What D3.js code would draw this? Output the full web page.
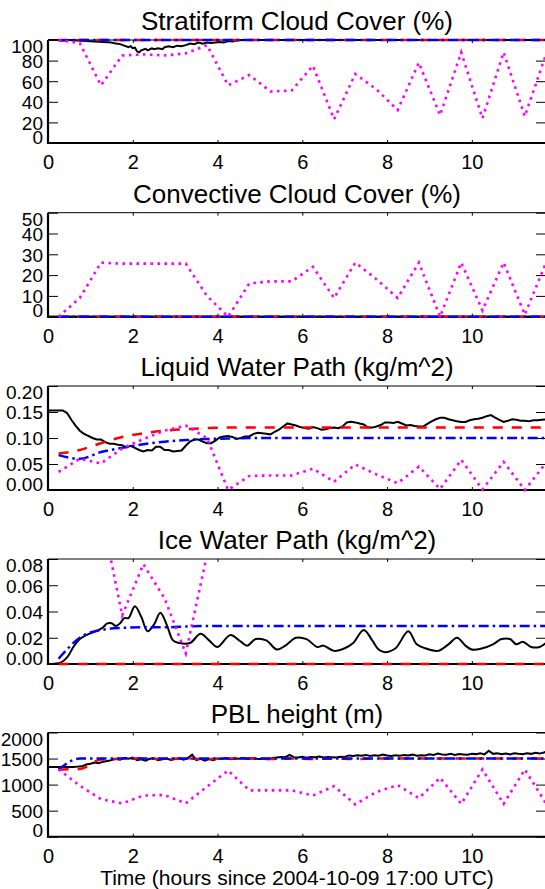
<!DOCTYPE html>
<html><head><meta charset="utf-8">
<script src="https://cdn.jsdelivr.net/npm/d3@7"></script>
<style>body{margin:0;background:#fff} svg{display:block}</style>
</head><body>
<script>
// ---------- DATA ----------
const modelTimes=[0.25,0.75,1.25,1.75,2.25,2.75,3.25,3.75,4.25,4.75,5.25,5.75,6.25,6.75,7.25,7.75,8.25,8.75,9.25,9.75,10.25,10.75,11.25,11.75];
const xTicks=[0,2,4,6,8,10];
const titles=["Stratiform Cloud Cover (%)","Convective Cloud Cover (%)","Liquid Water Path (kg/m^2)","Ice Water Path (kg/m^2)","PBL height (m)"];
const xLabel="Time (hours since 2004-10-09 17:00 UTC)";

// Stratiform cloud cover
const stratObsTimes=[0,0.5,0.7,0.9,1.1,1.3,1.5,1.6,1.7,1.8,1.9,1.95,2.0,2.05,2.1,2.15,2.2,2.3,2.35,2.45,2.5,2.6,2.7,2.75,2.85,2.95,3.05,3.15,3.25,3.35,3.45,3.55,3.65,3.75,3.85,3.95,4.05,4.15,4.25,4.35,4.45,4.6,11.75];
const stratObs=[100,100,99.5,99,98.5,98,97.5,96.5,96,94.5,93,94,92,92.5,89,88,90,91.5,90,92,91,92,91,93,94,93,94.5,94,95,96.5,96,97.5,96.5,97.5,97,97.5,98,97.5,99,98.5,99.5,100,100];
const stratRed=[100,100,100,100,100,100,100,100,100,100,100,100,100,100,100,100,100,100,100,100,100,100,100,100];
const stratBlue=[99.5,100,100,100,100,100,100,100,100,100,100,100,100,100,100,100,100,100,100,100,100,100,100,100];
const stratMagenta=[100,97,56,85,86,85,87,95,56,66,50,51,75,23,67,52,32,78,27,88,24,88,26,86];
const stratTicks=[0,20,40,60,80,100];

// Convective cloud cover
const convObsTimes=[0,11.75];
const convObs=[0,0];
const convRed=[0,0,0,0,0,0,0,0,0,0,0,0,0,0,0,0,0,0,0,0,0,0,0,0];
const convBlue=[0,0,0,0,0,0,0,0,0,0,0,0,0,0,0,0,0,0,0,0,0,0,0,0];
const convMagenta=[0,9,26,25.5,25.5,25.5,25.5,10,0,16,17,17,24,9,26,18,9,26,0,26,3,26,1,26];
const convTicks=[0,10,20,30,40,50];

// Liquid water path
const lwpObsTimes=[0,0.2,0.35,0.45,0.55,0.65,0.75,0.85,0.95,1.05,1.15,1.25,1.35,1.45,1.55,1.65,1.75,1.85,1.95,2.05,2.15,2.25,2.35,2.45,2.55,2.65,2.75,2.85,2.95,3.05,3.15,3.25,3.35,3.45,3.55,3.65,3.75,3.85,3.95,4.05,4.15,4.25,4.35,4.45,4.55,4.65,4.75,4.85,4.95,5.05,5.15,5.25,5.35,5.45,5.55,5.65,5.75,5.85,5.95,6.05,6.15,6.25,6.35,6.45,6.55,6.65,6.75,6.85,6.95,7.05,7.15,7.25,7.35,7.45,7.55,7.65,7.75,7.85,7.95,8.05,8.15,8.25,8.35,8.45,8.55,8.65,8.75,8.85,8.95,9.05,9.15,9.25,9.35,9.45,9.55,9.65,9.75,9.85,9.95,10.05,10.15,10.25,10.35,10.45,10.55,10.65,10.75,10.85,10.95,11.05,11.15,11.25,11.35,11.45,11.55,11.65,11.75];
const lwpObs=[0.153,0.153,0.153,0.148,0.135,0.124,0.114,0.108,0.104,0.100,0.097,0.097,0.092,0.089,0.089,0.087,0.086,0.082,0.085,0.081,0.077,0.074,0.077,0.076,0.083,0.083,0.077,0.077,0.074,0.075,0.076,0.085,0.093,0.097,0.097,0.093,0.090,0.090,0.095,0.101,0.103,0.104,0.102,0.098,0.100,0.103,0.103,0.108,0.110,0.109,0.108,0.107,0.112,0.116,0.122,0.128,0.126,0.124,0.121,0.119,0.118,0.121,0.119,0.116,0.117,0.119,0.120,0.119,0.122,0.130,0.131,0.130,0.128,0.126,0.120,0.120,0.122,0.125,0.130,0.130,0.129,0.131,0.128,0.124,0.125,0.123,0.122,0.122,0.127,0.132,0.136,0.139,0.139,0.136,0.134,0.132,0.131,0.131,0.134,0.136,0.137,0.139,0.142,0.144,0.139,0.135,0.131,0.133,0.136,0.135,0.133,0.133,0.132,0.134,0.134,0.135,0.136];
const lwpRed=[0.070,0.077,0.090,0.102,0.109,0.114,0.117,0.119,0.120,0.120,0.120,0.120,0.120,0.120,0.120,0.120,0.120,0.120,0.120,0.120,0.120,0.120,0.120,0.120];
const lwpBlue=[0.067,0.060,0.073,0.081,0.088,0.093,0.096,0.098,0.099,0.100,0.100,0.100,0.100,0.100,0.100,0.100,0.100,0.100,0.100,0.100,0.100,0.100,0.100,0.100];
const lwpMagenta=[0.035,0.060,0.051,0.080,0.098,0.114,0.124,0.100,0.000,0.027,0.028,0.028,0.041,0.016,0.049,0.030,0.013,0.045,0.002,0.058,0.001,0.054,0.000,0.052];
const lwpTicks=[0,0.05,0.10,0.15,0.20];

// Ice water path
const iwpObsTimes=[0,0.15,0.3,0.45,0.6,0.75,0.9,1.05,1.2,1.3,1.4,1.5,1.6,1.7,1.8,1.9,2.05,2.2,2.35,2.5,2.65,2.8,2.95,3.1,3.35,3.6,3.8,4.0,4.3,4.55,4.7,4.9,5.15,5.4,5.6,5.85,6.1,6.35,6.5,6.75,7.0,7.2,7.45,7.65,7.8,7.95,8.2,8.5,8.7,8.9,9.2,9.45,9.65,9.85,10.0,10.25,10.5,10.7,10.9,11.05,11.2,11.4,11.6,11.75];
const iwpObs=[0,0.0002,0.001,0.005,0.013,0.019,0.022,0.024,0.026,0.028,0.031,0.031,0.029,0.031,0.035,0.035,0.044,0.036,0.025,0.030,0.039,0.030,0.018,0.016,0.016,0.023,0.018,0.013,0.022,0.017,0.014,0.019,0.018,0.011,0.014,0.020,0.019,0.013,0.014,0.010,0.012,0.016,0.026,0.018,0.011,0.009,0.012,0.025,0.015,0.012,0.010,0.015,0.020,0.014,0.011,0.012,0.015,0.019,0.019,0.015,0.017,0.013,0.013,0.016];
const iwpRed=[0,0,0,0,0,0,0,0,0,0,0,0,0,0,0,0,0,0,0,0,0,0,0,0];
const iwpBlue=[0.004,0.020,0.026,0.0275,0.028,0.028,0.0285,0.029,0.029,0.029,0.029,0.029,0.029,0.029,0.029,0.029,0.029,0.029,0.029,0.029,0.029,0.029,0.029,0.029];
const iwpMagenta=[0.15,0.2,0.117,0.037,0.076,0.05,0.008,0.083,0.15,0.15,0.15,0.15,0.15,0.15,0.15,0.15,0.15,0.15,0.15,0.15,0.15,0.15,0.15,0.15];
const iwpTicks=[0,0.02,0.04,0.06,0.08];

// PBL height
const pblObsTimes=[0,0.1,0.2,0.3,0.4,0.5,0.6,0.7,0.8,0.9,1.0,1.1,1.2,1.3,1.4,1.5,1.6,1.7,1.8,1.9,2.0,2.1,2.2,2.3,2.4,2.5,2.6,2.7,2.8,2.9,3.0,3.1,3.2,3.3,3.4,3.5,3.6,3.7,3.8,3.9,4.0,4.1,4.2,4.3,4.4,4.5,4.6,4.7,4.8,4.9,5.0,5.1,5.2,5.3,5.4,5.5,5.6,5.7,5.8,5.9,6.0,6.1,6.2,6.3,6.4,6.5,6.6,6.7,6.8,6.9,7.0,7.1,7.2,7.3,7.4,7.5,7.6,7.7,7.8,7.9,8.0,8.1,8.2,8.3,8.4,8.5,8.6,8.7,8.8,8.9,9.0,9.1,9.2,9.3,9.4,9.5,9.6,9.7,9.8,9.9,10.0,10.1,10.2,10.3,10.4,10.5,10.6,10.7,10.8,10.9,11.0,11.1,11.2,11.3,11.4,11.5,11.6,11.7,11.75];
const pblObs=[1340,1340,1340,1340,1340,1340,1340,1345,
1350,1385,1400,1425,1410,1440,1455,1470,1495,1480,
1515,1495,1520,1470,1485,1460,1495,1505,1470,1485,
1500,1475,1490,1505,1480,1510,1575,1470,1495,1460,
1490,1470,1500,1490,1510,1485,1500,1495,1510,1490,
1505,1495,1490,1500,1485,1510,1520,1530,1525,1570,
1525,1520,1535,1515,1530,1525,1540,1520,1530,1525,
1520,1535,1530,1560,1550,1565,1555,1570,1550,1565,
1555,1575,1560,1550,1565,1555,1570,1560,1575,1555,
1565,1560,1580,1570,1595,1580,1575,1590,1570,1585,
1580,1575,1590,1585,1600,1580,1650,1590,1600,1585,
1595,1580,1600,1590,1585,1600,1590,1610,1595,1615,
1630];
const pblRed=[1290,1300,1480,1495,1500,1490,1500,1490,1500,1500,1490,1500,1490,1500,1490,1500,1500,1500,1500,1500,1500,1500,1500,1500];
const pblBlue=[1290,1500,1500,1500,1500,1500,1500,1500,1500,1500,1500,1500,1500,1500,1500,1500,1500,1500,1500,1500,1500,1500,1500,1500];
const pblMagenta=[1290,980,720,640,790,800,640,960,1270,890,890,890,790,970,620,860,990,740,1130,630,1290,630,1290,640];
const pblTicks=[0,500,1000,1500,2000];

// ---------- LAYOUT ----------
const W=545,H=889;
const X0=48,X1=546;
const panels=[
 {title:titles[0],top:40,bottom:143,domain:[0,100],ticks:stratTicks,fmt:d3.format("d"),
  obsT:stratObsTimes,obs:stratObs,red:stratRed,blue:stratBlue,mag:stratMagenta,curve:d3.curveLinear},
 {title:titles[1],top:212.7,bottom:316.7,domain:[0,50],ticks:convTicks,fmt:d3.format("d"),
  obsT:convObsTimes,obs:convObs,red:convRed,blue:convBlue,mag:convMagenta,curve:d3.curveLinear},
 {title:titles[2],top:386,bottom:490,domain:[0,0.2],ticks:lwpTicks,fmt:d3.format(".2f"),
  obsT:lwpObsTimes,obs:lwpObs,red:lwpRed,blue:lwpBlue,mag:lwpMagenta,curve:d3.curveLinear},
 {title:titles[3],top:559,bottom:664,domain:[0,0.08],ticks:iwpTicks,fmt:d3.format(".2f"),
  obsT:iwpObsTimes,obs:iwpObs,red:iwpRed,blue:iwpBlue,mag:iwpMagenta,curve:d3.curveCatmullRom},
 {title:titles[4],top:732.5,bottom:836.7,domain:[0,2000],ticks:pblTicks,fmt:d3.format("d"),
  obsT:pblObsTimes,obs:pblObs,red:pblRed,blue:pblBlue,mag:pblMagenta,curve:d3.curveLinear}
];

const svg=d3.select("body").append("svg").attr("width",W).attr("height",H)
  .style("font-family","'Liberation Sans',Arial,Helvetica,sans-serif");

const x=d3.scaleLinear().domain([0,11.75]).range([X0,X1]);
const FONT_T=26, FONT_X=20, FONT_Y=19;

panels.forEach((p,i)=>{
  const y=d3.scaleLinear().domain(p.domain).range([p.bottom,p.top]);
  const cid="clip"+i;
  svg.append("clipPath").attr("id",cid).append("rect")
    .attr("x",X0).attr("y",p.top-(i===3?0:2)).attr("width",X1-X0).attr("height",p.bottom-p.top+(i===3?2:4));

  // title
  svg.append("text").attr("x",(X0+X1)/2).attr("y",p.top-10).attr("text-anchor","middle")
    .attr("font-size",FONT_T).attr("fill","#000").text(p.title);

  // axes (drawn first, data on top)
  const ax=svg.append("g");
  ax.append("line").attr("x1",X0).attr("x2",X1).attr("y1",p.top).attr("y2",p.top).attr("stroke","#000").attr("stroke-width",1);
  ax.append("line").attr("x1",X1).attr("x2",X1).attr("y1",p.top).attr("y2",p.bottom).attr("stroke","#000").attr("stroke-width",1);
  ax.append("line").attr("x1",X0).attr("x2",X0).attr("y1",p.top).attr("y2",p.bottom+1).attr("stroke","#000").attr("stroke-width",2.2);
  ax.append("line").attr("x1",X0-1).attr("x2",X1).attr("y1",p.bottom).attr("y2",p.bottom).attr("stroke","#000").attr("stroke-width",2);

  const yl=ax.append("g").attr("transform",`translate(${X0},0)`)
    .call(d3.axisLeft(y).tickValues(p.ticks).tickFormat(p.fmt).tickSize(-10).tickSizeOuter(0).tickPadding(5));
  yl.select(".domain").remove();
  yl.attr("font-family",null);
  yl.selectAll("line").attr("stroke","#000").attr("stroke-width",1);
  yl.selectAll("text").attr("font-size",FONT_Y).attr("fill","#000")
    .attr("dy",null)
    .attr("y",d=>{const c=Math.max(p.top+5.7,Math.min(p.bottom-6.7,y(d)));return c-y(d)+0.36*FONT_Y;});
  const yr=ax.append("g").attr("transform",`translate(${X1},0)`)
    .call(d3.axisRight(y).tickValues(p.ticks).tickFormat("").tickSize(-10).tickSizeOuter(0));
  yr.select(".domain").remove();
  yr.selectAll("line").attr("stroke","#000").attr("stroke-width",1);

  const xb=ax.append("g").attr("transform",`translate(0,${p.bottom})`)
    .call(d3.axisBottom(x).tickValues(xTicks).tickFormat(d3.format("d")).tickSize(-3).tickSizeOuter(0).tickPadding(0));
  xb.select(".domain").remove();
  xb.attr("font-family",null);
  xb.selectAll("line").attr("stroke","#000");
  xb.selectAll("text").attr("font-size",FONT_X).attr("fill","#000").attr("dy",null).attr("y",26);
  const xt=ax.append("g").attr("transform",`translate(0,${p.top})`)
    .call(d3.axisTop(x).tickValues(xTicks).tickFormat("").tickSize(-3).tickSizeOuter(0));
  xt.select(".domain").remove();
  xt.selectAll("line").attr("stroke","#000");

  // data
  const data=svg.append("g").attr("clip-path",`url(#${cid})`);
  const line=d3.line().x(d=>x(d[0])).y(d=>y(d[1])).curve(p.curve);
  data.append("path").attr("d",line(p.obsT.map((t,j)=>[t,p.obs[j]]))).attr("fill","none")
    .attr("stroke","#000").attr("stroke-width",2);
  const ml=d3.line().x(d=>x(d[0])).y(d=>y(d[1])).curve(d3.curveLinear);
  const mlSmooth=d3.line().x(d=>x(d[0])).y(d=>y(d[1])).curve(d3.curveMonotoneX);
  data.append("path").attr("d",mlSmooth(modelTimes.map((t,j)=>[t,p.red[j]]))).attr("fill","none")
    .attr("stroke","#ff0000").attr("stroke-width",2.5).attr("stroke-dasharray","10,9");
  data.append("path").attr("d",mlSmooth(modelTimes.map((t,j)=>[t,p.blue[j]]))).attr("fill","none")
    .attr("stroke","#0000ff").attr("stroke-width",2.5).attr("stroke-dasharray","10,4,2.5,4");
  data.append("path").attr("d",ml(modelTimes.map((t,j)=>[t,p.mag[j]]))).attr("fill","none")
    .attr("stroke","#ff00ff").attr("stroke-width",2.6).attr("stroke-dasharray","2.6,4.4");
});

svg.append("text").attr("x",(X0+X1)/2).attr("y",885).attr("text-anchor","middle")
  .attr("font-size",21).attr("fill","#000").text(xLabel);
</script>
</body></html>
